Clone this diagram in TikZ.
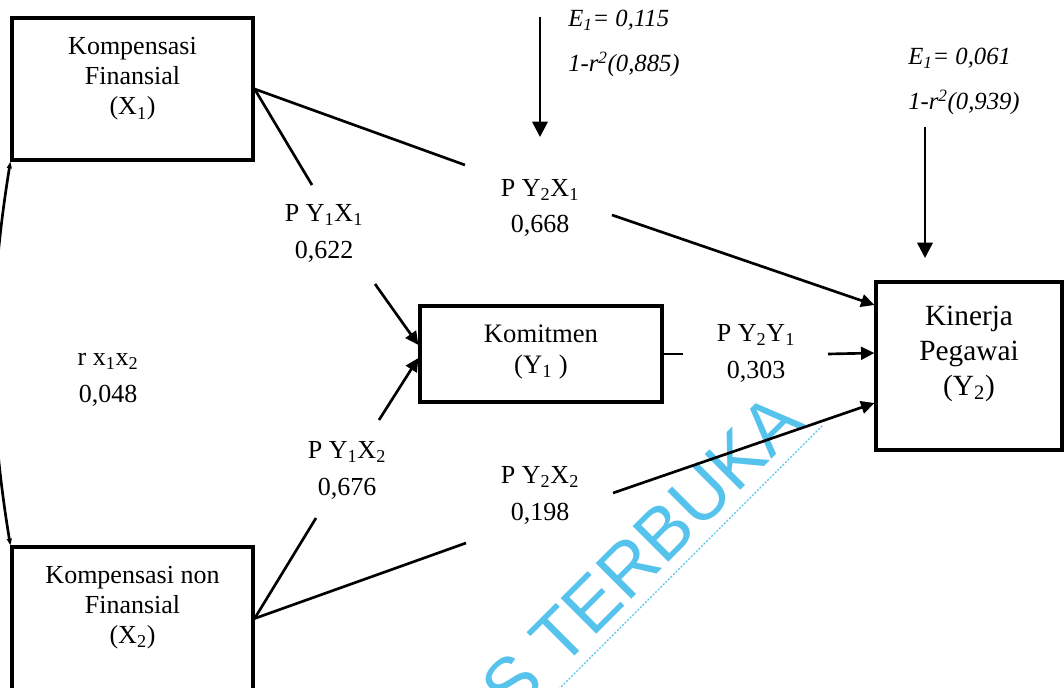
\documentclass[tikz,border=0pt]{standalone}
\usepackage{fontspec}
\setmainfont{Liberation Serif}
\newfontfamily\wmfont{Liberation Sans}
\usepackage{tikz}
\usetikzlibrary{arrows.meta,calc,positioning}
\usepackage{xcolor}
\definecolor{utcyan}{HTML}{55C3EC}

\begin{document}
\begin{tikzpicture}[
  x=0.75pt, y=-0.75pt,
  >={Triangle[length=10pt,width=9.5pt]},
  construct/.style={draw,line width=2.4pt,align=center,inner sep=0pt,
                    font=\fontsize{19.5}{22.5}\selectfont},
  coef/.style={align=center,inner sep=1pt,anchor=base,
               font=\fontsize{19.5}{27.5}\selectfont},
  errtext/.style={align=left,inner sep=0pt,anchor=base west,
                  font=\itshape\fontsize{18.5}{33.75}\selectfont},
  link/.style={line width=2pt},
  errarrow/.style={line width=2pt,-{Triangle[length=11.5pt,width=11.5pt]}},
  watermark/.style={text=utcyan,font=\wmfont\fontsize{55}{55}\selectfont,
                    rotate=45,anchor=base east,inner sep=8.25pt}
]
\useasboundingbox (0,0) rectangle (1064,688);
\clip (0,0) rectangle (1064,688);

% watermark
\node[watermark] (wm) at (814,417) {S TERBUKA};
\draw[utcyan,line width=0.9pt,dash pattern=on 1.5pt off 1.2pt]
  ([xshift=-40pt,yshift=-40pt]wm.south west) -- (wm.south east);

% variables
\node[construct,minimum width=180.75pt,minimum height=106.5pt,
      text height=60pt,text depth=21pt] (x1) at (132.5,89)
  {Kompensasi\\Finansial\\(X\textsubscript{1})};
\node[construct,minimum width=180.75pt,minimum height=107.25pt,
      text height=60pt,text depth=23.25pt] (x2) at (132.5,618.5)
  {Kompensasi non\\Finansial\\(X\textsubscript{2})};
\node[construct,minimum width=181.5pt,minimum height=72pt,
      font=\fontsize{20}{23.25}\selectfont,
      text height=40pt,text depth=11.5pt] (y1) at (541,354)
  {Komitmen\\(Y\textsubscript{1} )};
\node[construct,minimum width=139.5pt,minimum height=126pt,
      font=\fontsize{22}{26.25}\selectfont,
      text height=70pt,text depth=26.5pt] (y2) at (969,366)
  {Kinerja\\Pegawai\\(Y\textsubscript{2})};

% path coefficients
\node[coef] (p11) at (324,258) {P Y\textsubscript{1}X\textsubscript{1}\\0,622};
\node[coef] (p21) at (540,233) {P Y\textsubscript{2}X\textsubscript{1}\\0,668};
\node[coef] (p22) at (756,378) {P Y\textsubscript{2}Y\textsubscript{1}\\0,303};
\node[coef] (p12) at (347,495) {P Y\textsubscript{1}X\textsubscript{2}\\0,676};
\node[coef] (p24) at (540,520) {P Y\textsubscript{2}X\textsubscript{2}\\0,198};
\node[coef] (rx)  at (108,402) {r x\textsubscript{1}x\textsubscript{2}\\0,048};

% residuals
\node[errtext] (e1) at (568,72)
  {E\textsubscript{1}= 0,115\\1-r\textsuperscript{2}(0,885)};
\node[errtext] (e2) at (908,110)
  {E\textsubscript{1}= 0,061\\1-r\textsuperscript{2}(0,939)};

% break points around the coefficients
\coordinate (b1a) at (465,165);
\coordinate (b1b) at (612,215);
\coordinate (b2a) at (312,185);
\coordinate (b2b) at (375,284);
\coordinate (b3a) at (316,518);
\coordinate (b3b) at (379,420);
\coordinate (b4a) at (466,543);
\coordinate (b4b) at (613,493);
\coordinate (b5a) at (683,354);
\coordinate (b5b) at (828,354);
\coordinate (e1s) at (540,17);
\coordinate (e1t) at (540,137);
\coordinate (e2s) at (925,127);
\coordinate (e2t) at (925,258);

\draw[link] (x1.east) -- (b1a);
\draw[link,->] (b1b) -- ([yshift=45.75pt]y2.west);
\draw[link] (x1.east) -- (b2a);
\draw[link,->] (b2b) -- ([yshift=6.75pt]y1.west);
\draw[link] (x2.east) -- (b3a);
\draw[link,->] (b3b) -- ([yshift=-3pt]y1.west);
\draw[link] (x2.east) -- (b4a);
\draw[link,->] (b4b) -- ([yshift=-27.75pt]y2.west);
\draw[link] (y1.east) -- (b5a);
\draw[link,->] (b5b) -- ([yshift=9.75pt]y2.west);
\draw[link,{Triangle[length=5pt,width=3.5pt]}-{Triangle[length=5pt,width=3.5pt]}]
  (x1.south west) .. controls (-12,300) and (-12,410) .. (x2.north west);
\draw[errarrow] (e1s) -- (e1t);
\draw[errarrow] (e2s) -- (e2t);
\end{tikzpicture}
\end{document}
